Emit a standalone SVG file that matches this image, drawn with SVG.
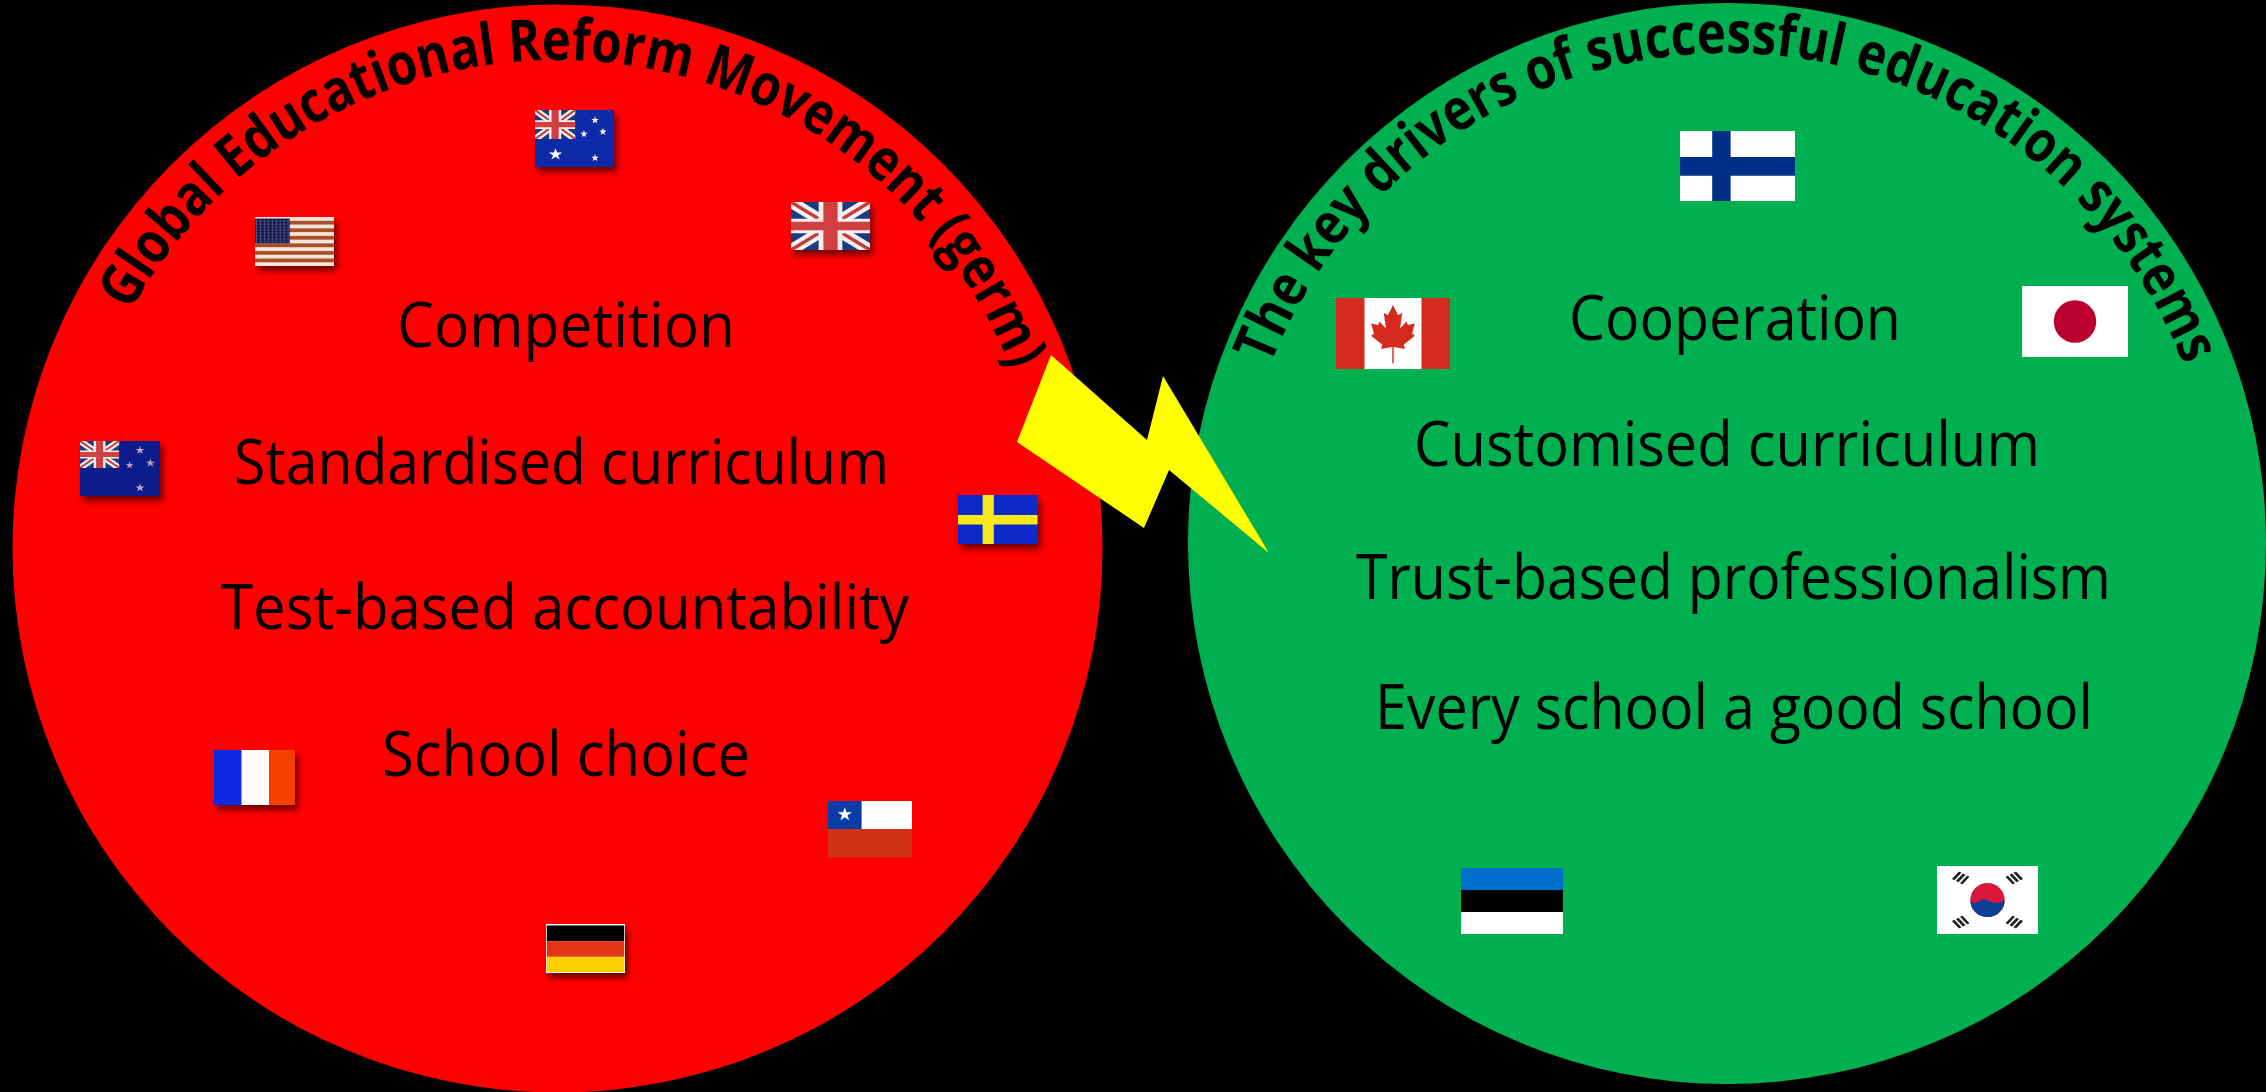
<svg xmlns="http://www.w3.org/2000/svg" xmlns:xlink="http://www.w3.org/1999/xlink" width="2266" height="1092" viewBox="0 0 2266 1092">
<style>
text{font-family:"Open Sans","Noto Sans","Liberation Sans",sans-serif;fill:#000}
.item{font-size:63px}
.arc{font-size:58px;font-weight:700}
.sh{filter:url(#shadow)}
</style>
<defs>
<filter id="shadow" x="-20%" y="-20%" width="150%" height="150%"><feDropShadow dx="3" dy="5" stdDeviation="3" flood-color="#000" flood-opacity=".55"/></filter>
<clipPath id="unit"><rect width="100" height="100"/></clipPath>
<pattern id="usStars" width="5" height="6" patternUnits="userSpaceOnUse"><rect width="5" height="6" fill="#1a1f55"/><ellipse cx="2" cy="2" rx=".9" ry="1.200" fill="#b8bcd8"/></pattern>
<path id="star" d="M0-1 .225-.309H.951L.363.118.588.809 0 .382-.588.809-.363.118-.951-.309H-.225Z"/>
<g id="uj" clip-path="url(#unit)">
<rect width="100" height="100" fill="#1c3a80"/>
<path d="M0 0 100 100M0 100 100 0" stroke="#f2f0f0" stroke-width="20" fill="none"/>
<path d="M0 0 100 100M0 100 100 0" stroke="#c83a3a" stroke-width="6" fill="none"/>
<path d="M50 0V100M0 50H100" stroke="#f4eeee" stroke-width="30" fill="none"/>
<path d="M50 0V100M0 50H100" stroke="#d04040" stroke-width="18" fill="none"/>
</g>
<path id="bolt" d="M1051 355 1147 440 1163 376 1269 553 1169 470 1144 528 1017 442Z"/>
<path id="arcRed" d="M130.200 311.400A488 488 0 0 1 557 60A488 488 0 0 1 1037.600 463.300"/>
<path id="arcGreen" d="M1270.100 365.800A490 490 0 0 1 1727 53A490 490 0 0 1 2209.600 457.900"/>
</defs>
<rect width="2266" height="1092" fill="#000"/>
<g id="node-germ">
<ellipse cx="557.500" cy="548.500" rx="545" ry="544" fill="#ff0000"/>
<text class="arc"><textPath href="#arcRed" xlink:href="#arcRed" textLength="1104" lengthAdjust="spacingAndGlyphs">Global Educational Reform Movement (germ)</textPath></text>
<text class="item" x="397" y="347" textLength="338" lengthAdjust="spacingAndGlyphs">Competition</text>
<text class="item" x="234" y="484" textLength="655" lengthAdjust="spacingAndGlyphs">Standardised curriculum</text>
<text class="item" x="221" y="629" textLength="688" lengthAdjust="spacingAndGlyphs">Test-based accountability</text>
<text class="item" x="382" y="776" textLength="368" lengthAdjust="spacingAndGlyphs">School choice</text>
</g>
<g id="node-drivers">
<ellipse cx="1727" cy="543.500" rx="539" ry="540.500" fill="#00b050"/>
<text class="arc"><textPath href="#arcGreen" xlink:href="#arcGreen" textLength="1176" lengthAdjust="spacingAndGlyphs">The key drivers of successful education systems</textPath></text>
<text class="item" x="1569" y="339.500" textLength="332" lengthAdjust="spacingAndGlyphs">Cooperation</text>
<text class="item" x="1414" y="465.500" textLength="626" lengthAdjust="spacingAndGlyphs">Customised curriculum</text>
<text class="item" x="1356" y="599" textLength="755" lengthAdjust="spacingAndGlyphs">Trust-based professionalism</text>
<text class="item" x="1375" y="729" textLength="718" lengthAdjust="spacingAndGlyphs">Every school a good school</text>
</g>
<g id="connectors"><use href="#bolt" xlink:href="#bolt" fill="#ffff00"/></g>

<g id="flag-australia" class="sh"><g transform="translate(535 110) scale(.79 .57)">
<rect width="100" height="100" fill="#0c2aa8"/>
<use href="#uj" xlink:href="#uj" transform="scale(.51)"/>
<g fill="#fff"><use href="#star" xlink:href="#star" transform="translate(26 78) scale(9 11)"/><use href="#star" xlink:href="#star" transform="translate(76 18) scale(5 7)"/><use href="#star" xlink:href="#star" transform="translate(62 42) scale(5 7)"/><use href="#star" xlink:href="#star" transform="translate(86 38) scale(5 7)"/><use href="#star" xlink:href="#star" transform="translate(76 84) scale(5 7)"/></g>
</g></g>

<g id="flag-usa" class="sh"><g transform="translate(255 217) scale(.79 .49)">
<rect width="100" height="100" fill="#f3e6d8"/>
<g fill="#a8502c"><rect y="7.700" width="100" height="7.700"/><rect y="23.100" width="100" height="7.700"/><rect y="38.500" width="100" height="7.700"/><rect y="53.900" width="100" height="7.700"/><rect y="69.300" width="100" height="7.700"/><rect y="84.700" width="100" height="7.700"/></g>
<rect y="3" width="44" height="51" fill="url(#usStars)"/>
</g></g>

<g id="flag-uk" class="sh"><g transform="translate(791 202) scale(.79 .48)"><use href="#uj" xlink:href="#uj"/></g></g>

<g id="flag-nz" class="sh"><g transform="translate(80 441) scale(.80 .55)">
<rect width="100" height="100" fill="#0c1f8c"/>
<use href="#uj" xlink:href="#uj" transform="scale(.49)"/>
<g fill="#c9a0b8"><use href="#star" xlink:href="#star" transform="translate(75 17) scale(6 8)"/><use href="#star" xlink:href="#star" transform="translate(62 44) scale(5 7)"/><use href="#star" xlink:href="#star" transform="translate(88 40) scale(6 8)"/><use href="#star" xlink:href="#star" transform="translate(75 85) scale(6 8)"/></g>
</g></g>

<g id="flag-sweden" class="sh"><g transform="translate(958 495) scale(.795 .49)">
<rect width="100" height="100" fill="#0a2cc8"/>
<path d="M31 0H45V100H31ZM0 41H100V60H0Z" fill="#f8e81c"/>
</g></g>

<g id="flag-france" class="sh"><g transform="translate(214 750) scale(.81 .55)">
<rect width="34" height="100" fill="#1029e0"/><rect x="34" width="34" height="100" fill="#fff"/><rect x="68" width="32" height="100" fill="#f44000"/>
</g></g>

<g id="flag-chile"><g transform="translate(828 801) scale(.84 .56)">
<rect width="100" height="50" fill="#fff"/><rect width="40" height="50" fill="#0a3ca8"/>
<rect y="50" width="100" height="50" fill="#d03314"/>
<use href="#star" xlink:href="#star" transform="translate(20 24) scale(9 13)" fill="#fff"/>
</g></g>

<g id="flag-germany" class="sh"><g transform="translate(546 924) scale(.79 .49)">
<rect width="100" height="100" fill="#fff"/>
<rect x="1" y="3" width="98" height="32" fill="#000"/><rect x="1" y="35" width="98" height="32" fill="#e33513"/><rect x="1" y="67" width="98" height="31" fill="#ffd000"/>
</g></g>

<g id="flag-finland"><g transform="translate(1680 131) scale(1.15 .70)">
<rect width="100" height="100" fill="#fff"/>
<path d="M28 0H44V100H28ZM0 37H100V64H0Z" fill="#002f87"/>
</g></g>

<g id="flag-canada"><g transform="translate(1336 298) scale(1.14 .71)">
<rect width="100" height="100" fill="#fff"/>
<rect width="25" height="100" fill="#d52b1e"/><rect x="75" width="25" height="100" fill="#d52b1e"/>
<path transform="translate(50 0) scale(.62 1) translate(-50 0)" d="M50 10 57 24 63 21 60 43 69 33 71 38 81 36 77 50 81 53 65 66 67 72 51 69V92H49V69L33 72 35 66 19 53 23 50 19 36 29 38 31 33 40 43 37 21 43 24Z" fill="#d52b1e"/>
</g></g>

<g id="flag-japan"><g transform="translate(2022 286) scale(1.06 .71)">
<rect width="100" height="100" fill="#fff"/>
<ellipse cx="50" cy="50" rx="20" ry="30" fill="#bc002d"/>
</g></g>

<g id="flag-estonia"><g transform="translate(1461 868) scale(1.02 .66)">
<rect width="100" height="33.300" fill="#0070d0"/><rect y="33.300" width="100" height="33.400" fill="#000"/><rect y="66.700" width="100" height="33.300" fill="#fff"/>
</g></g>

<g id="flag-korea"><g transform="translate(1937 866) scale(1.01 .68)">
<rect width="100" height="100" fill="#fff"/>
<ellipse cx="50" cy="50" rx="17" ry="25" fill="#d8173a"/>
<path d="M33 50C38 62 44 44 50 50S62 56 67 50C67 64 60 75 50 75S33 64 33 50Z" fill="#0a3f94"/>
<g stroke="#222" stroke-width="3" fill="none">
<path d="M16 20 23 9M20 23 27 12M24 26 31 15"/>
<path d="M69 15 76 26M73 12 80 23M77 9 84 20"/>
<path d="M16 80 23 91M20 77 27 88M24 74 31 85"/>
<path d="M69 85 76 74M73 88 80 77M77 91 84 80"/>
</g>
</g></g>
</svg>
